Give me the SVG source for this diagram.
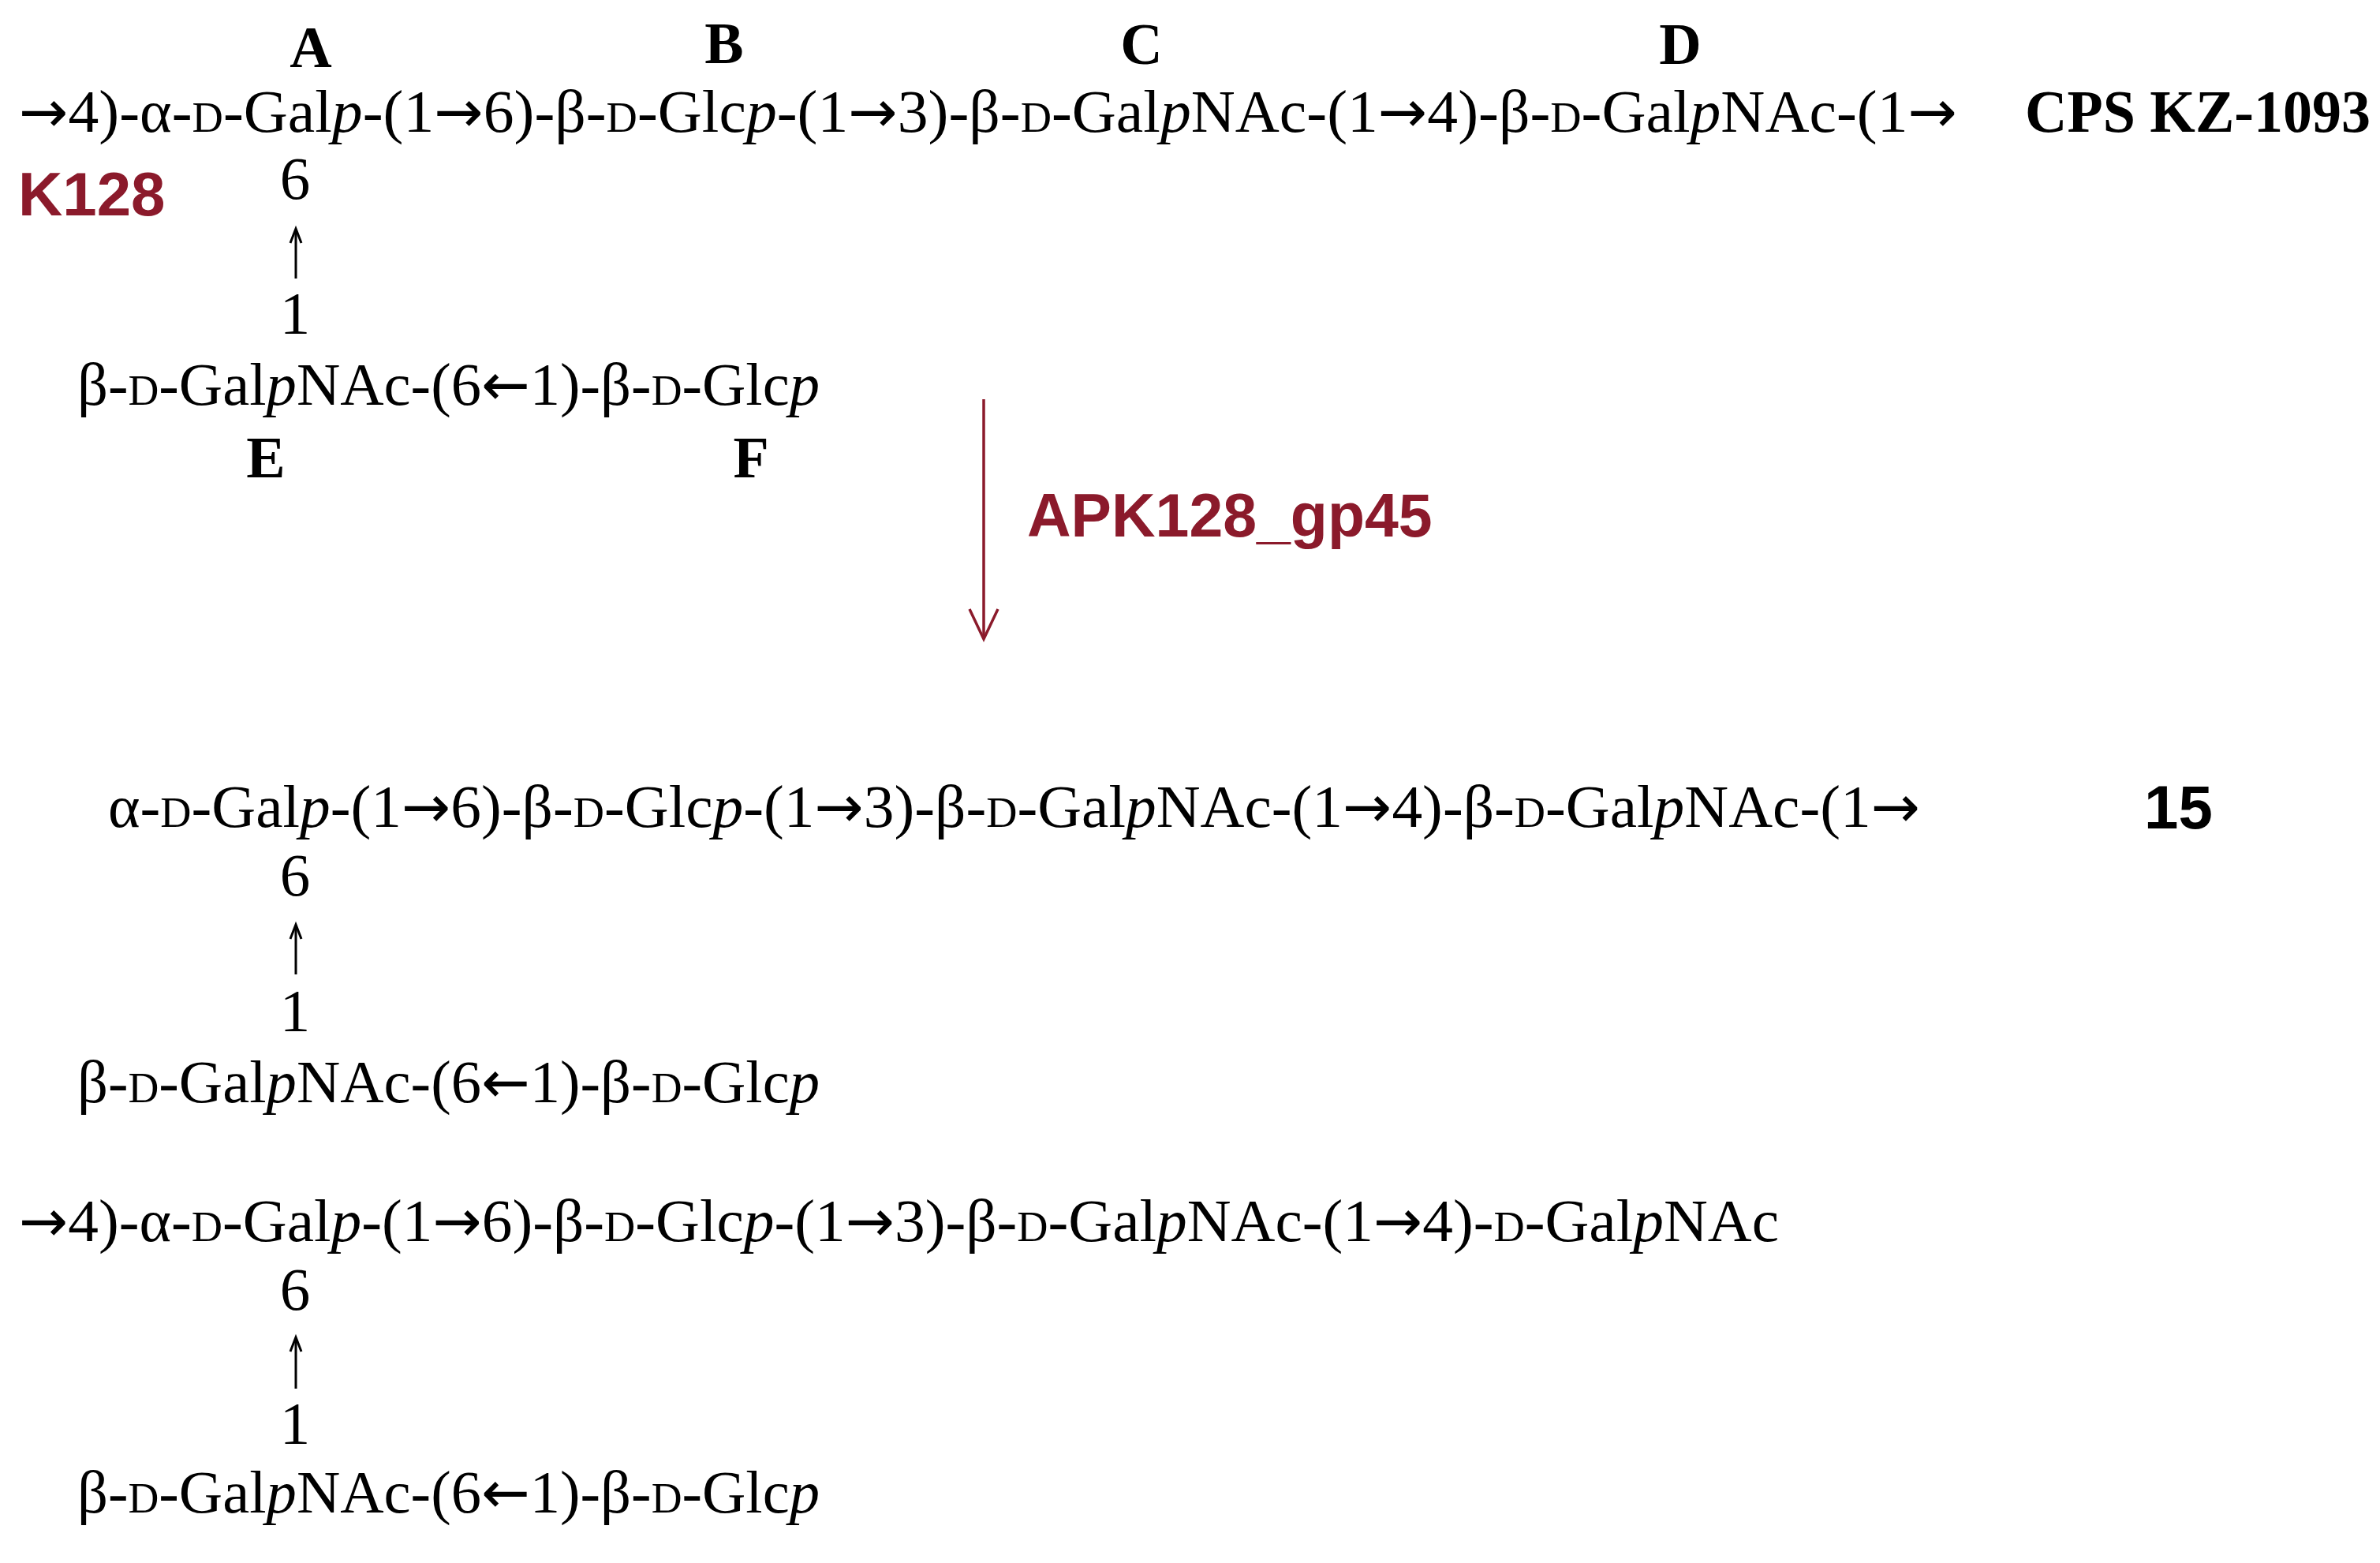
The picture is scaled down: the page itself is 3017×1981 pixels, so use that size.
<svg xmlns="http://www.w3.org/2000/svg" width="3017" height="1981" viewBox="0 0 3017 1981">
<style>
.f{font-family:"Liberation Serif","Times New Roman",serif;font-size:77px;fill:#000}
.lb{font-family:"Liberation Serif","Times New Roman",serif;font-size:74px;font-weight:bold;fill:#000;text-anchor:middle}
.n{font-family:"Liberation Serif","Times New Roman",serif;font-size:77px;fill:#000;text-anchor:middle}
.sc{font-size:54px}
.i{font-style:italic}
.ar{font-family:"DejaVu Sans",sans-serif;font-size:74px}
.red{font-family:"Liberation Sans",Arial,sans-serif;font-weight:bold;fill:#8B1A2B}
.blk{font-family:"Liberation Sans",Arial,sans-serif;font-weight:bold;fill:#000}
.up{stroke:#000;stroke-width:3;fill:none}
</style>
<rect width="3017" height="1981" fill="#fff"/>
<g id="labels">
<text class="lb" x="394" y="85">A</text>
<text class="lb" x="918" y="80">B</text>
<text class="lb" x="1447" y="81">C</text>
<text class="lb" x="2130" y="81">D</text>
<text class="lb" x="337" y="605">E</text>
<text class="lb" x="952" y="605">F</text>
<text class="red" x="23" y="273" font-size="78">K128</text>
</g>
<g id="cps">
<text class="f" x="24" y="167" textLength="2457" lengthAdjust="spacingAndGlyphs"><tspan class="ar">→</tspan>4)-α-<tspan class="sc">D</tspan>-Gal<tspan class="i">p</tspan>-(1<tspan class="ar">→</tspan>6)-β-<tspan class="sc">D</tspan>-Glc<tspan class="i">p</tspan>-(1<tspan class="ar">→</tspan>3)-β-<tspan class="sc">D</tspan>-Gal<tspan class="i">p</tspan>NAc-(1<tspan class="ar">→</tspan>4)-β-<tspan class="sc">D</tspan>-Gal<tspan class="i">p</tspan>NAc-(1<tspan class="ar">→</tspan></text>
<text x="2567" y="167" font-family="Liberation Serif, Times New Roman, serif" font-weight="bold" font-size="76" textLength="438" lengthAdjust="spacingAndGlyphs">CPS KZ-1093</text>
<text class="n" x="374" y="252">6</text>
<text class="n" x="374" y="423">1</text>
<text class="f" x="98" y="513" textLength="941" lengthAdjust="spacingAndGlyphs">β-<tspan class="sc">D</tspan>-Gal<tspan class="i">p</tspan>NAc-(6<tspan class="ar">←</tspan>1)-β-<tspan class="sc">D</tspan>-Glc<tspan class="i">p</tspan></text>
</g>
<g id="product15">
<text class="f" x="137" y="1048" textLength="2297" lengthAdjust="spacingAndGlyphs">α-<tspan class="sc">D</tspan>-Gal<tspan class="i">p</tspan>-(1<tspan class="ar">→</tspan>6)-β-<tspan class="sc">D</tspan>-Glc<tspan class="i">p</tspan>-(1<tspan class="ar">→</tspan>3)-β-<tspan class="sc">D</tspan>-Gal<tspan class="i">p</tspan>NAc-(1<tspan class="ar">→</tspan>4)-β-<tspan class="sc">D</tspan>-Gal<tspan class="i">p</tspan>NAc-(1<tspan class="ar">→</tspan></text>
<text class="blk" x="2718" y="1050" font-size="78">15</text>
<text class="n" x="374" y="1135">6</text>
<text class="n" x="374" y="1307">1</text>
<text class="f" x="98" y="1397" textLength="941" lengthAdjust="spacingAndGlyphs">β-<tspan class="sc">D</tspan>-Gal<tspan class="i">p</tspan>NAc-(6<tspan class="ar">←</tspan>1)-β-<tspan class="sc">D</tspan>-Glc<tspan class="i">p</tspan></text>
</g>
<g id="product3">
<text class="f" x="24" y="1573" textLength="2231" lengthAdjust="spacingAndGlyphs"><tspan class="ar">→</tspan>4)-α-<tspan class="sc">D</tspan>-Gal<tspan class="i">p</tspan>-(1<tspan class="ar">→</tspan>6)-β-<tspan class="sc">D</tspan>-Glc<tspan class="i">p</tspan>-(1<tspan class="ar">→</tspan>3)-β-<tspan class="sc">D</tspan>-Gal<tspan class="i">p</tspan>NAc-(1<tspan class="ar">→</tspan>4)-<tspan class="sc">D</tspan>-Gal<tspan class="i">p</tspan>NAc</text>
<text class="n" x="374" y="1660">6</text>
<text class="n" x="374" y="1830">1</text>
<text class="f" x="98" y="1917" textLength="941" lengthAdjust="spacingAndGlyphs">β-<tspan class="sc">D</tspan>-Gal<tspan class="i">p</tspan>NAc-(6<tspan class="ar">←</tspan>1)-β-<tspan class="sc">D</tspan>-Glc<tspan class="i">p</tspan></text>
</g>
<g id="connectors">
<line class="up" x1="375" y1="353" x2="375" y2="291"/>
<polyline class="up" points="368,308 375,290 382,308"/>
<line class="up" x1="375" y1="1235" x2="375" y2="1173"/>
<polyline class="up" points="368,1190 375,1172 382,1190"/>
<line class="up" x1="375" y1="1760" x2="375" y2="1696"/>
<polyline class="up" points="368,1713 375,1695 382,1713"/>
<line x1="1247" y1="506" x2="1247" y2="809" stroke="#8B1A2B" stroke-width="3.5"/>
<polyline points="1229,772 1247,810 1265,772" fill="none" stroke="#8B1A2B" stroke-width="3.5"/>
<text class="red" x="1302" y="680" font-size="77">APK128_gp45</text>
</g>
</svg>
